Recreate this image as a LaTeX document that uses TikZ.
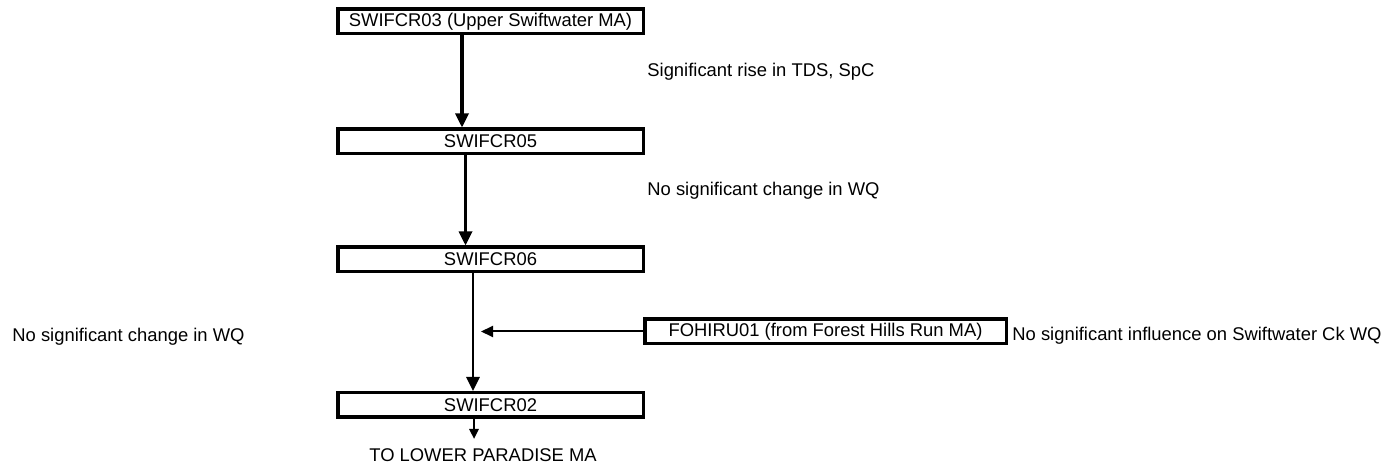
\documentclass[tikz,border=0pt]{standalone}
\usepackage{fontspec}
\setmainfont{Liberation Sans}
\usetikzlibrary{arrows.meta}
\begin{document}
\begin{tikzpicture}[x=0.5pt,y=-0.5pt,
  font=\fontsize{9.2}{11}\selectfont,
  site/.style={draw, line width=1.75pt, inner sep=0pt, minimum height=12.25pt,
    minimum width=152.75pt, anchor=center},
  flow/.style={line width=1.6pt, -{Triangle[length=7pt,width=6.5pt]}},
  thinflow/.style={line width=1pt, -{Triangle[length=6pt,width=5.5pt]}},
  note/.style={anchor=base west, inner sep=0pt}]
\useasboundingbox (0,0) rectangle (1387,464);

% monitoring stations along the main stem
\node[site] (s03) at (490.5,21.5) {SWIFCR03 (Upper Swiftwater MA)};
\node[site] (s05) at (490.5,141.5) {SWIFCR05};
\node[site] (s06) at (490.5,259.5) {SWIFCR06};
\node[site] (s02) at (490.5,405) {SWIFCR02};

% tributary station
\node[site, minimum width=180.75pt] (fh01) at (825.5,331.5) {FOHIRU01 (from Forest Hills Run MA)};

% junction points
\coordinate (j) at (473,331.5);
\coordinate (jt) at (481,331.5);
\coordinate (outlet) at (474,439);

% flow connectors
\draw[flow] ([xshift=-14.25pt]s03.south) -- ([xshift=-14.25pt]s05.north);
\draw[flow] ([xshift=-12.5pt]s05.south) -- ([xshift=-12.5pt]s06.north);
\draw[line width=0.8pt] ([xshift=-8.75pt]s06.south) -- (j);
\draw[flow, line width=1.3pt] (j) -- ([xshift=-8.75pt]s02.north);
\draw[thinflow] (fh01.west) -- (jt);
\draw[line width=1.2pt, -{Triangle[length=5pt,width=4.5pt]}] ([xshift=-8.25pt]s02.south) -- (outlet);

% annotations
\node[note] (n1) at (647,77) {Significant rise in TDS, SpC};
\node[note] (n2) at (647,196) {No significant change in WQ};
\node[note] (n3) at (12,342) {No significant change in WQ};
\node[note] (n4) at (1012,341) {No significant influence on Swiftwater Ck WQ};
\node[anchor=base, inner sep=0pt] (low) at (483,462) {TO LOWER PARADISE MA};
\end{tikzpicture}
\end{document}
